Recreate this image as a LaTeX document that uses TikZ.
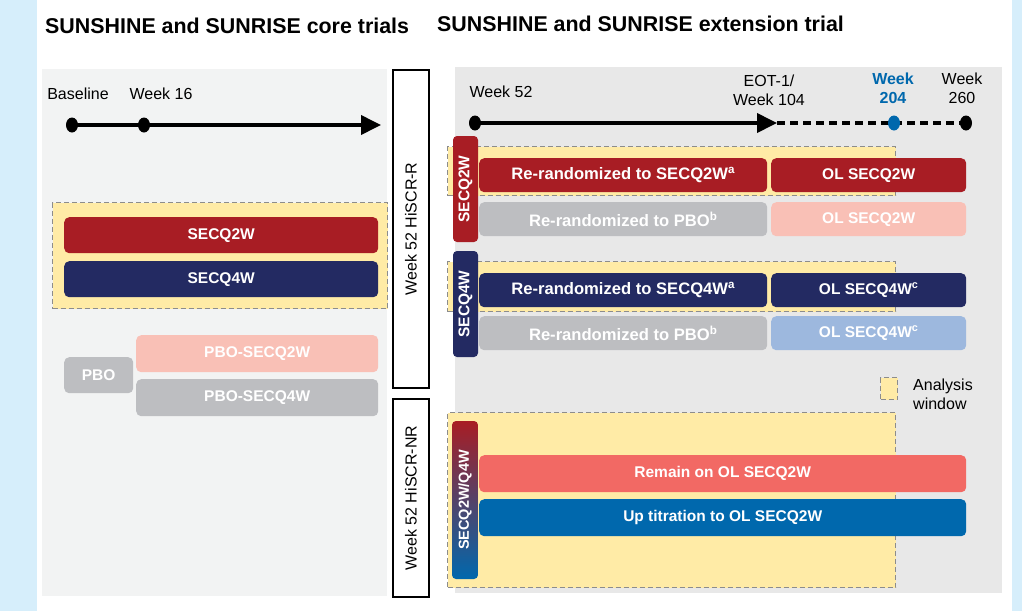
\documentclass[tikz,border=0pt]{standalone}
\usepackage{fontspec}
\setmainfont{Liberation Sans}
\usetikzlibrary{arrows.meta,shapes.geometric}
\definecolor{outerblue}{RGB}{214,238,251}
\definecolor{lpanel}{RGB}{242,243,243}
\definecolor{rpanel}{RGB}{232,232,232}
\definecolor{secred}{RGB}{168,29,36}
\definecolor{secnavy}{RGB}{35,42,98}
\definecolor{pbogrey}{RGB}{189,190,193}
\definecolor{pinklt}{RGB}{249,192,182}
\definecolor{bluelt}{RGB}{157,184,222}
\definecolor{salmon}{RGB}{242,105,100}
\definecolor{secblue}{RGB}{0,104,173}
\definecolor{anyellow}{RGB}{255,235,166}
\definecolor{dashgrey}{RGB}{140,140,140}
\tikzset{
  bar/.style={rounded corners=5pt, inner sep=0pt, anchor=north west, text=white,
    font=\bfseries\fontsize{15.5}{18}\selectfont},
  rrbar/.style={bar, font=\bfseries\fontsize{16.6}{19}\selectfont},
  tab/.style={rounded corners=4pt, inner sep=0pt, rotate=90, text=white,
    font=\bfseries\fontsize{15.5}{18}\selectfont},
  window/.style={fill=anyellow, draw=dashgrey, dashed, line width=1.3pt, dash pattern=on 5pt off 3pt},
  vbox/.style={draw=black, fill=white, line width=1.2pt, rotate=90, inner sep=0pt,
    font=\fontsize{16}{19}\selectfont},
  lbl/.style={font=\fontsize{16}{19}\selectfont, align=center, inner sep=0pt},
  title/.style={font=\bfseries\fontsize{21.4}{24}\selectfont, anchor=west, inner sep=0pt},
  dot/.style={ellipse, fill=black, minimum width=12pt, minimum height=15pt, inner sep=0pt},
  tline/.style={line width=3.8pt},
}
\begin{document}
\begin{tikzpicture}[x=1pt,y=-1pt]
\useasboundingbox (0,0) rectangle (1022,611);
% backgrounds
\fill[outerblue] (0,0) rectangle (1022,611);
\fill[white] (37,0) rectangle (1012,611);
\fill[lpanel] (42,69) rectangle (387,596);
\fill[rpanel] (455,67) rectangle (1002,593);

% titles
\node[title] (t1) at (45,26) {SUNSHINE and SUNRISE core trials};
\node[title] (t2) at (437,24) {SUNSHINE and SUNRISE extension trial};

% left timeline
\node[lbl] (lbase) at (78,94) {Baseline};
\node[lbl] (l16) at (161,94) {Week 16};
\node[dot] (b0) at (72,125) {};
\node[dot] (b16) at (144,125) {};
\coordinate (lend) at (381,125);
\draw[tline, -{Triangle[length=20pt,width=19pt]}] (b0.center) -- (lend);

% left analysis window and bars
\node[window, anchor=north west, minimum width=335pt, minimum height=106pt, inner sep=0pt] (lw) at (52,202) {};
\node[bar, fill=secred, minimum width=314pt, minimum height=36pt] (l2w) at (64,217) {SECQ2W};
\node[bar, fill=secnavy, minimum width=314pt, minimum height=36pt] (l4w) at (64,261) {SECQ4W};
\node[bar, fill=pinklt, minimum width=242pt, minimum height=37pt] (lp2) at (136,335) {PBO-SECQ2W};
\node[bar, fill=pbogrey, minimum width=242pt, minimum height=37pt] (lp4) at (136,379) {PBO-SECQ4W};
\node[bar, fill=pbogrey, minimum width=69pt, minimum height=36pt] (lpbo) at (64,357) {PBO};

% vertical boxes
\node[vbox, minimum width=318pt, minimum height=36pt] (hr) at (411,229) {Week 52 HiSCR-R};
\node[vbox, minimum width=198pt, minimum height=36pt] (hnr) at (411,498) {Week 52 HiSCR-NR};

% right timeline
\node[lbl] (r52l) at (501,92) {Week 52};
\node[lbl] (eotl) at (769,90) {EOT-1/\\Week 104};
\node[lbl, text=secblue, font=\bfseries\fontsize{16}{19}\selectfont] (w204l) at (893,88) {Week\\204};
\node[lbl] (w260l) at (962,88) {Week\\260};
\node[dot] (r52) at (475,123) {};
\coordinate (eot) at (777,123);
\node[dot] (w260) at (966,123) {};
\draw[tline, dash pattern=on 8pt off 5pt] (eot) -- (w260.center);
\draw[tline, -{Triangle[length=20pt,width=19pt]}] (r52.center) -- (eot);
\node[dot, fill=secblue] (w204) at (894,123) {};

% right analysis windows
\node[window, anchor=north west, minimum width=448pt, minimum height=49pt, inner sep=0pt] (rw1) at (447,146) {};
\node[window, anchor=north west, minimum width=448pt, minimum height=50pt, inner sep=0pt] (rw2) at (447,261) {};
\node[window, anchor=north west, minimum width=448pt, minimum height=175pt, inner sep=0pt] (rw3) at (447,412) {};

% SECQ2W group
\node[rrbar, fill=secred, minimum width=288pt, minimum height=34pt] (rr2) at (479,158) {Re-randomized to SECQ2W\textsuperscript{a}};
\node[bar, fill=secred, minimum width=195pt, minimum height=34pt] (ol2) at (771,158) {OL SECQ2W};
\node[rrbar, fill=pbogrey, minimum width=288pt, minimum height=34pt] (rp2) at (479,202) {Re-randomized to PBO\textsuperscript{b}};
\node[bar, fill=pinklt, minimum width=195pt, minimum height=34pt] (olp2) at (771,202) {OL SECQ2W};
\node[tab, fill=secred, minimum width=106pt, minimum height=25pt] (tab2) at (465.5,189) {SECQ2W};

% SECQ4W group
\node[rrbar, fill=secnavy, minimum width=288pt, minimum height=34pt] (rr4) at (479,273) {Re-randomized to SECQ4W\textsuperscript{a}};
\node[bar, fill=secnavy, minimum width=195pt, minimum height=34pt] (ol4) at (771,273) {OL SECQ4W\textsuperscript{c}};
\node[rrbar, fill=pbogrey, minimum width=288pt, minimum height=34pt] (rp4) at (479,316) {Re-randomized to PBO\textsuperscript{b}};
\node[bar, fill=bluelt, minimum width=195pt, minimum height=34pt] (olp4) at (771,316) {OL SECQ4W\textsuperscript{c}};
\node[tab, fill=secnavy, minimum width=106pt, minimum height=25pt] (tab4) at (465.5,304) {SECQ4W};

% legend
\node[window, anchor=north west, minimum width=17pt, minimum height=22pt, inner sep=0pt] (leg) at (880,377) {};
\node[lbl, align=left, anchor=north west] (legt) at (913,379) {Analysis\\window};

% non-responders
\node[bar, fill=salmon, minimum width=487pt, minimum height=37pt] (rem) at (479,455) {Remain on OL SECQ2W};
\node[bar, fill=secblue, minimum width=487pt, minimum height=37pt] (up) at (479,499) {Up titration to OL SECQ2W};
\node[tab, top color=secred, bottom color=secblue, minimum width=158pt, minimum height=26pt,
  font=\bfseries\fontsize{14.5}{17}\selectfont] (tabnr) at (465,500) {SECQ2W/Q4W};
\end{tikzpicture}
\end{document}
